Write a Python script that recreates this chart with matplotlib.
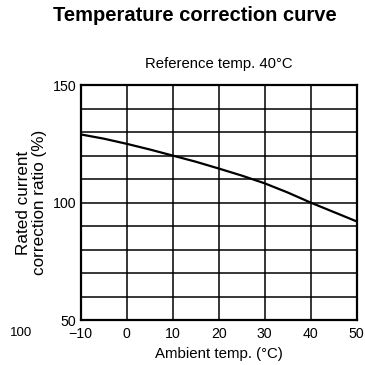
import numpy as np
import matplotlib.pyplot as plt

plt.rcParams['font.family'] = ['Liberation Sans', 'DejaVu Sans']

# ambient temperature (°C) vs rated current correction ratio (%)
temp = [-10, -5, 0, 5, 10, 15, 20, 25, 30, 35, 40, 45, 50]
ratio = [129, 127.2, 125, 122.6, 120, 117.4, 114.5, 111.5, 108.2, 104.3, 100, 96, 92]

x_ticks = [-10, 0, 10, 20, 30, 40, 50]
x_labels = ['\u221210', '0', '10', '20', '30', '40', '50']
y_ticks = [50, 100, 150]

fig = plt.figure(figsize=(3.65, 3.65), dpi=100)
ax = fig.add_axes([0.221, 0.123, 0.756, 0.644])

ax.plot(temp, ratio, color='black', lw=1.6)

ax.set_xlim(-10, 50)
ax.set_ylim(50, 150)
ax.set_xticks(x_ticks)
ax.set_xticklabels(x_labels)
ax.set_yticks(y_ticks)
ax.set_yticks(np.arange(50, 151, 10), minor=True)
ax.tick_params(axis='x', length=0, labelsize=10.2, pad=5)
ax.tick_params(axis='y', length=0, labelsize=10.2, pad=3)
ax.tick_params(which='minor', length=0)
ax.grid(True, which='both', color='black', lw=1.1)
for s in ax.spines.values():
    s.set_linewidth(1.6)

ax.set_xlabel('Ambient temp. (\u00b0C)', fontsize=10.8, labelpad=4)
ax.set_ylabel('Rated current\ncorrection ratio (%)', fontsize=12.3, labelpad=4, linespacing=1.15)
ax.set_title('Reference temp. 40\u00b0C', fontsize=10.7, pad=12)
fig.text(0.534, 0.957, 'Temperature correction curve', fontsize=14.5,
         fontweight='bold', ha='center', va='center')
fig.text(0.028, 0.087, '100', fontsize=9.5, ha='left', va='center')

fig.savefig('out.png', dpi=100)
